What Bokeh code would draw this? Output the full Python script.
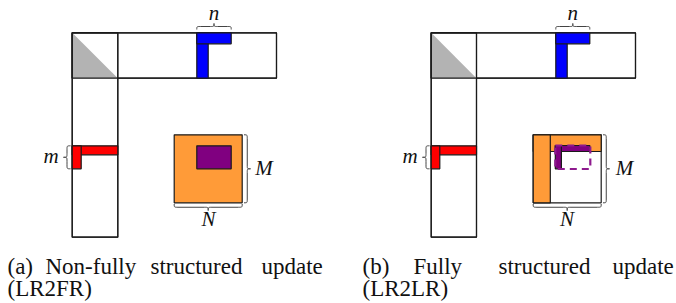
from bokeh.plotting import figure
from bokeh.models import Range1d, ColumnDataSource
from bokeh.core.properties import value
from bokeh.embed import file_html
from bokeh.resources import INLINE

# ---- diagram geometry (image pixel coordinates, y downward) ----
# big frame rectangles: [left, right, top, bottom]
frame_l = [71.7, 430.7, 71.7, 430.7]
frame_r = [276.0, 635.0, 117.3, 476.0]
frame_t = [32.3, 32.3, 32.3, 32.3]
frame_b = [77.7, 77.7, 236.7, 236.7]

# gray triangles (lower-left half of the corner block)
tri_xs = [[71.7, 71.7, 117.3], [430.7, 430.7, 476.0]]
tri_ys = [[32.3, 77.7, 77.7], [32.3, 77.7, 77.7]]

# blue blocks (n)
blue_l = [196.3, 196.3, 555.3, 555.3]
blue_r = [207.7, 230.7, 566.7, 589.3]
blue_t = [32.3, 32.3, 32.3, 32.3]
blue_b = [77.7, 43.3, 77.7, 43.3]

# red blocks (m)
red_l = [71.7, 71.7, 430.7, 430.7]
red_r = [117.3, 80.7, 476.0, 439.3]
red_t = [145.3, 145.3, 145.3, 145.3]
red_b = [154.3, 168.3, 154.3, 168.3]

# square blocks (M x N)
sq_l = [173.7, 532.7]
sq_r = [241.7, 600.7]
sq_t = [134.3, 134.3]
sq_b = [202.3, 202.3]
sq_fill = ["#FF9B38", "#FFFFFF"]

# orange bars in panel (b)
or_l = [532.7, 532.7]
or_r = [600.7, 549.8]
or_t = [134.3, 134.3]
or_b = [151.0, 202.3]

# purple blocks
pur_l = [196.3, 554.8, 554.8]
pur_r = [230.7, 589.3, 560.9]
pur_t = [145.3, 145.0, 145.0]
pur_b = [168.3, 151.0, 168.3]

# dashed purple outline (panel b)
dash_l = [554.8]
dash_r = [589.8]
dash_t = [145.0]
dash_b = [168.5]

# braces: (start, end, base, tip, orientation)
braces = [
    (196.3, 230.7, 29.0, 23.0, "h"),   # n (a)
    (555.3, 589.3, 29.0, 23.0, "h"),   # n (b)
    (145.3, 168.3, 70.0, 63.0, "v"),   # m (a)
    (145.3, 168.3, 429.0, 422.0, "v"), # m (b)
    (134.3, 202.3, 243.5, 250.0, "v"), # M (a)
    (134.3, 202.3, 602.5, 609.0, "v"), # M (b)
    (173.7, 241.7, 203.5, 210.0, "h"), # N (a)
    (532.7, 600.7, 203.5, 210.0, "h"), # N (b)
]

# math labels
lab_text = ["n", "n", "m", "m", "M", "M", "N", "N"]
lab_x = [213.5, 572.3, 50.5, 409.5, 263.5, 624.0, 208.0, 566.5]
lab_y = [12.0, 12.0, 155.0, 155.0, 167.0, 167.0, 218.0, 218.0]

# captions (word-justified)
cap_words = ["(a)", "Non-fully", "structured", "update", "(LR2FR)",
             "(b)", "Fully", "structured", "update", "(LR2LR)"]
cap_x = [7, 45, 150, 261, 7, 362, 413, 498, 612, 362]
cap_y = [266, 266, 266, 266, 288, 266, 266, 266, 266, 288]

# ---- figure ----
p = figure(width=676, height=303, output_backend="svg", toolbar_location=None,
           x_range=Range1d(0, 676), y_range=Range1d(303, 0),
           min_border=0, outline_line_color=None)
p.axis.visible = False
p.grid.visible = False
p.background_fill_color = "white"
p.border_fill_color = "white"

LC = "#1a1a1a"
LW = 1.2

p.quad(left=frame_l, right=frame_r, top=frame_t, bottom=frame_b,
       fill_color="white", line_color=LC, line_width=LW)
p.patches(xs=tri_xs, ys=tri_ys, fill_color="#B3B3B3", line_color=None)
p.quad(left=frame_l, right=frame_r, top=frame_t, bottom=frame_b,
       fill_color=None, line_color=LC, line_width=LW)

p.quad(left=blue_l, right=blue_r, top=blue_t, bottom=blue_b,
       fill_color="#0000FF", line_color=LC, line_width=LW)
p.quad(left=red_l, right=red_r, top=red_t, bottom=red_b,
       fill_color="#FF0000", line_color=LC, line_width=LW)

p.quad(left=sq_l, right=sq_r, top=sq_t, bottom=sq_b,
       fill_color=sq_fill, line_color=LC, line_width=LW)
p.quad(left=or_l, right=or_r, top=or_t, bottom=or_b,
       fill_color="#FF9B38", line_color=LC, line_width=LW)
p.quad(left=pur_l, right=pur_r, top=pur_t, bottom=pur_b,
       fill_color="#800080", line_color=LC, line_width=LW)
p.quad(left=dash_l, right=dash_r, top=dash_t, bottom=dash_b,
       fill_color=None, line_color="#8E1A8E", line_width=2.2, line_dash="7 5")

# braces via bezier segments
bz = dict(x0=[], y0=[], x1=[], y1=[], cx0=[], cy0=[], cx1=[], cy1=[])
sx, sy, ex, ey = [], [], [], []
for a, b, base, tip, o in braces:
    m = (a + b) / 2.0
    d = tip - base
    h = base + d / 2.0
    q = abs(d) / 2.0 + 0.5
    segs = [((a, base), (a + q, h), (a, h)),
            ((m - q, h), (m, tip), (m, h)),
            ((m, tip), (m + q, h), (m, h)),
            ((b - q, h), (b, base), (b, h))]
    for (p0, p1, c) in segs:
        if o == "h":
            P0, P1, C = p0, p1, c
        else:
            P0, P1, C = (p0[1], p0[0]), (p1[1], p1[0]), (c[1], c[0])
        bz["x0"].append(P0[0]); bz["y0"].append(P0[1])
        bz["x1"].append(P1[0]); bz["y1"].append(P1[1])
        bz["cx0"].append(C[0]); bz["cy0"].append(C[1])
        bz["cx1"].append(C[0]); bz["cy1"].append(C[1])
    lines = [((a + q, h), (m - q, h)), ((m + q, h), (b - q, h))]
    for (p0, p1) in lines:
        if o == "h":
            sx.append(p0[0]); sy.append(p0[1]); ex.append(p1[0]); ey.append(p1[1])
        else:
            sx.append(p0[1]); sy.append(p0[0]); ex.append(p1[1]); ey.append(p1[0])

p.bezier(source=ColumnDataSource(bz), x0="x0", y0="y0", x1="x1", y1="y1",
         cx0="cx0", cy0="cy0", cx1="cx1", cy1="cy1",
         line_color="#444444", line_width=1.0)
p.segment(x0=sx, y0=sy, x1=ex, y1=ey, line_color="#444444", line_width=1.0)

p.text(x=lab_x, y=lab_y, text=lab_text, text_font=value("Liberation Serif"),
       text_font_style="italic", text_font_size="21px", text_align="center",
       text_baseline="alphabetic", text_color="#111111")

p.text(x=cap_x, y=cap_y, text=cap_words, text_font=value("Liberation Serif"),
       text_font_size="23px", text_align="left", text_baseline="alphabetic",
       text_color="#111111")

open("out.html", "w").write(file_html(p, INLINE))
